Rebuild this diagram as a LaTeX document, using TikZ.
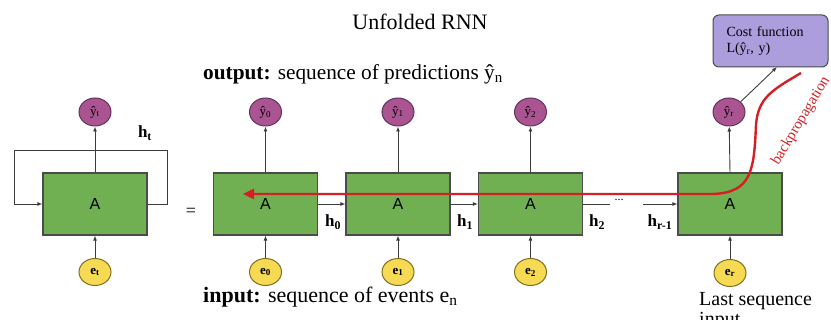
\documentclass[tikz,border=0pt]{standalone}
\usepackage{fontspec}
\setmainfont{Liberation Serif}
\newfontfamily\sansA{Liberation Sans}
\usetikzlibrary{arrows.meta,shapes.geometric}
\definecolor{boxgreen}{RGB}{112,176,82}
\definecolor{edge}{RGB}{75,75,75}
\definecolor{yfill}{RGB}{170,84,146}
\definecolor{ybord}{RGB}{100,50,95}
\definecolor{efill}{RGB}{246,218,84}
\definecolor{ebord}{RGB}{130,110,30}
\definecolor{costfill}{RGB}{172,158,220}
\definecolor{conncol}{RGB}{60,60,60}
\definecolor{bpred}{RGB}{212,32,36}
\begin{document}
\begin{tikzpicture}[x=1pt,y=-1pt,
  cell/.style={draw=edge,fill=boxgreen,line width=1.2pt,minimum width=104pt,minimum height=62pt,inner sep=0pt,font=\sansA\fontsize{16}{16}\selectfont},
  ycirc/.style={ellipse,draw=ybord,fill=yfill,line width=1pt,minimum width=32pt,minimum height=28pt,inner sep=0pt,font=\fontsize{13}{13}\selectfont},
  ecirc/.style={ellipse,draw=ebord,fill=efill,line width=1pt,minimum width=32pt,minimum height=27pt,inner sep=0pt,font=\bfseries\fontsize{13}{13}\selectfont},
  conn/.style={draw=conncol,line width=0.9pt,-{Latex[length=5pt,width=4pt]}},
  plain/.style={draw=conncol,line width=0.9pt},
  hlab/.style={font=\bfseries\fontsize{17}{17}\selectfont,inner sep=0pt},
  txt/.style={font=\fontsize{22}{22}\selectfont,inner sep=0pt},
  bp/.style={draw=bpred,line width=2.4pt}]
\useasboundingbox (0,0) rectangle (831,320);

% titles
\node[txt] (title) at (420,22) {Unfolded RNN};
\node[txt,font=\fontsize{21.3}{22}\selectfont,anchor=west] (outlab) at (203,74) {\textbf{output:} sequence of predictions ŷ\textsubscript{n}};
\node[txt,anchor=west] (inlab) at (203,297) {\textbf{input:} sequence of events e\textsubscript{n}};
\node[font=\fontsize{20}{20}\selectfont,inner sep=0pt,anchor=north west,align=left] (last) at (699,292) {Last sequence\\input};

% folded RNN
\node[cell] (A0) at (95,204) {A};
\node[ycirc] (yt) at (95,112) {ŷ\textsubscript{t}};
\node[ecirc] (et) at (95,272) {e\textsubscript{t}};
\draw[conn] (A0.north) -- (yt);
\draw[conn] (et) -- (A0.south);
\coordinate (lr1) at (167,204);
\coordinate (lr2) at (167,150);
\coordinate (ll1) at (14,150);
\coordinate (ll2) at (14,204);
\draw[conn] (A0.east) -- (lr1) -- (lr2) -- (ll1) -- (ll2) -- (A0.west);
\node[hlab] (ht) at (145,133) {h\textsubscript{t}};
\node[font=\fontsize{18}{18}\selectfont] (eq) at (191,212) {=};

% unfolded cells
\node[cell] (B0) at (265.5,204) {A};
\node[cell] (B1) at (398,204) {A};
\node[cell] (B2) at (530.5,204) {A};
\node[cell] (B3) at (730,204) {A};

\node[ycirc] (y0) at (265.5,112) {ŷ\textsubscript{0}};
\node[ycirc] (y1) at (398,112) {ŷ\textsubscript{1}};
\node[ycirc] (y2) at (530.5,112) {ŷ\textsubscript{2}};
\node[ycirc] (yr) at (729,112) {ŷ\textsubscript{r}};

\node[ecirc] (e0) at (265.5,272) {e\textsubscript{0}};
\node[ecirc] (e1) at (398,272) {e\textsubscript{1}};
\node[ecirc] (e2) at (530.5,272) {e\textsubscript{2}};
\node[ecirc] (er) at (730,273) {e\textsubscript{r}};

\foreach \c/\y/\e in {B0/y0/e0,B1/y1/e1,B2/y2/e2,B3/yr/er}{
  \draw[conn] (\c.north) -- (\y);
  \draw[conn] (\e) -- (\c.south);
}

% hidden state arrows
\draw[conn] (B0.east) -- (B1.west);
\draw[conn] (B1.east) -- (B2.west);
\coordinate (dotsL) at (610,204);
\coordinate (dotsR) at (643,204);
\draw[plain] (B2.east) -- (dotsL);
\node[font=\fontsize{12}{12}\selectfont,inner sep=0pt] (dots) at (619,200) {...};
\draw[conn] (dotsR) -- (B3.west);

\node[hlab] (h0) at (333,222) {h\textsubscript{0}};
\node[hlab] (h1) at (465,222) {h\textsubscript{1}};
\node[hlab] (h2) at (597,222) {h\textsubscript{2}};
\node[hlab] (hr) at (660,222) {h\textsubscript{r-1}};

% cost function
\node[draw=edge,fill=costfill,line width=1pt,rounded corners=6pt,minimum width=115pt,minimum height=52pt,text width=88pt,inner xsep=13.5pt,align=left,font=\fontsize{14}{16}\selectfont] (cost) at (770.5,41) {Cost function\\L(ŷ\textsubscript{r}, y)};
\coordinate (cin) at (777,67);
\draw[conn] (yr.north east) -- (cin);

% backpropagation
\coordinate (bpstart) at (801,73);
\coordinate (bpend) at (243,194);
\draw[bp,-{Triangle[length=11pt,width=10pt]}] (bpstart) .. controls (772,90) and (758,98) .. (756,125) .. controls (754,170) and (752,193) .. (712,194) -- (bpend);
\node[text=bpred,font=\fontsize{15}{15}\selectfont,rotate=59,inner sep=0pt] (bplab) at (801,121) {backpropagation};
\end{tikzpicture}
\end{document}
